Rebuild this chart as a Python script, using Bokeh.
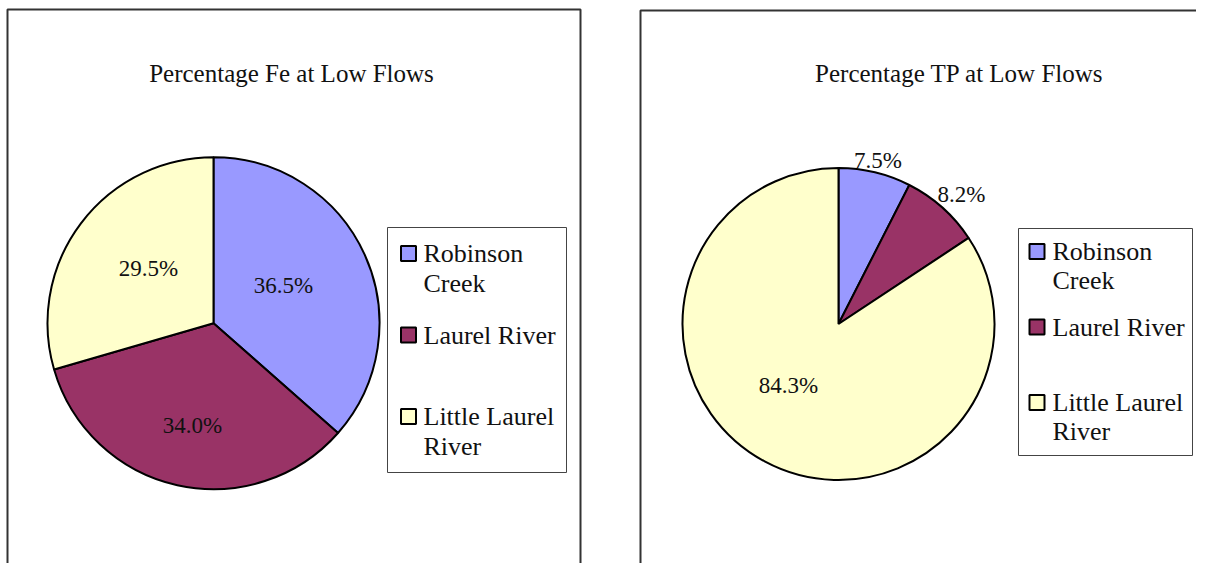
import math
import textwrap
from bokeh.plotting import figure
from bokeh.models import Range1d
from bokeh.core.properties import value
from bokeh.embed import file_html
from bokeh.resources import INLINE

# ---------------- data ----------------
categories = ["Robinson Creek", "Laurel River", "Little Laurel River"]
colors = ["#9999FF", "#993366", "#FFFFCC"]
fe_title = "Percentage Fe at Low Flows"
fe_values = [36.5, 34.0, 29.5]
tp_title = "Percentage TP at Low Flows"
tp_values = [7.5, 8.2, 84.3]

# ---------------- layout (page pixels) ----------------
W, H = 1196, 563
FONT = value("Liberation Serif")


def X(px):
    return px


def Y(py):
    return H - py


p = figure(width=W, height=H, output_backend="svg", toolbar_location=None,
           x_range=Range1d(0, W), y_range=Range1d(0, H),
           x_axis_type=None, y_axis_type=None, min_border=0)
p.grid.visible = False
p.outline_line_color = None
p.background_fill_color = "white"
p.border_fill_color = "white"

# chart frames
p.line([X(7), X(7), X(580), X(580)], [Y(600), Y(9), Y(9), Y(600)],
       line_color="#333333", line_width=2)
p.line([X(640), X(640), X(1230)], [Y(600), Y(10), Y(10)],
       line_color="#333333", line_width=2)


def draw_pie(title, vals, title_xy, center, radius, label_r, label_shift,
             box, sw_x, txt_x, base0, row_step, line_step):
    # title
    p.text(x=[X(title_xy[0])], y=[Y(title_xy[1])], text=[title],
           text_font=FONT, text_font_size="25px", text_color="#111111",
           text_align="center", text_baseline="middle")
    total = sum(vals)
    cx, cy = X(center[0]), Y(center[1])
    starts, ends = [], []
    cum = 0.0
    for v in vals:
        starts.append(math.pi / 2 - 2 * math.pi * cum / total)
        cum += v
        ends.append(math.pi / 2 - 2 * math.pi * cum / total)
    p.wedge(x=[cx] * len(vals), y=[cy] * len(vals), radius=radius,
            radius_units="screen", start_angle=starts, end_angle=ends,
            direction="clock", fill_color=colors, line_color="black",
            line_width=2)
    # labels
    lx, ly, lt = [], [], []
    for s, e, v, f, sh in zip(starts, ends, vals, label_r, label_shift):
        m = (s + e) / 2 - math.radians(sh)
        lx.append(cx + f * radius * math.cos(m))
        ly.append(cy + f * radius * math.sin(m))
        lt.append(f"{v / total * 100:.1f}%")
    p.text(x=lx, y=ly, text=lt, text_font=FONT, text_font_size="23px",
           text_color="#111111", text_align="center", text_baseline="middle")
    # legend box
    p.quad(left=[X(box[0])], right=[X(box[1])], top=[Y(box[2])],
           bottom=[Y(box[3])], fill_color="white", line_color="#444444",
           line_width=1)
    sx, sy, tx, ty, tt = [], [], [], [], []
    for i, cat in enumerate(categories):
        b = base0 + i * row_step
        sx.append(X(sw_x))
        sy.append(Y(b))
        for j, ln in enumerate(textwrap.wrap(cat, 13)):
            tx.append(X(txt_x))
            ty.append(Y(b + j * line_step))
            tt.append(ln)
    p.rect(x=sx, y=sy, width=15, height=15, width_units="screen",
           height_units="screen", fill_color=colors, line_color="black",
           line_width=2)
    p.text(x=tx, y=ty, text=tt, text_font=FONT, text_font_size="26px",
           text_color="#111111", text_align="left",
           text_baseline="middle")


draw_pie(fe_title, fe_values, (291, 73), (213, 322.7), 166,
         [0.479, 0.629, 0.512], [-4, -1, 3.2],
         (387, 566, 227, 472), 408, 423, 253, 81.5, 30)
draw_pie(tp_title, tp_values, (959, 73), (838, 323.5), 156,
         [1.08, 1.145, 0.51], [0, 1.7, 10.8],
         (1018, 1192, 228, 455), 1036.5, 1052, 251, 75.5, 28.5)

open("out.html", "w").write(file_html(p, INLINE))
